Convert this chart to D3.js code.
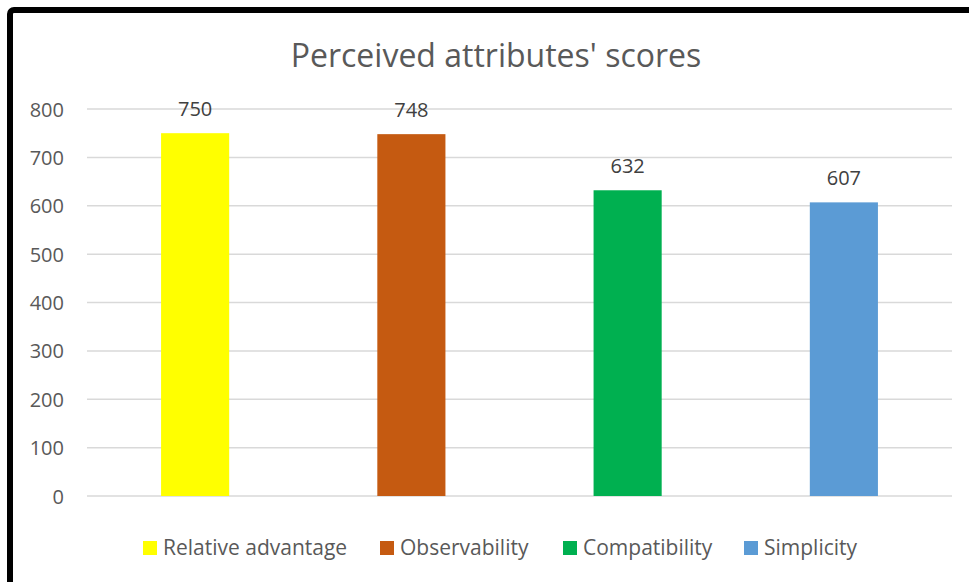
<!DOCTYPE html>
<html>
<head>
<meta charset="utf-8">
<script src="https://cdn.jsdelivr.net/npm/d3@7"></script>
<style>
  html, body { margin: 0; padding: 0; background: #fff; }
  svg { display: block; }
  text { font-family: "Open Sans", Lato, "Liberation Sans", sans-serif; }
</style>
</head>
<body>
<svg id="chart" width="969" height="582"></svg>
<script>
// Chart data
const categories = ["Relative advantage", "Observability", "Compatibility", "Simplicity"];
const scores = [750, 748, 632, 607];
const colors = ["#FFFF00", "#C55A11", "#00B050", "#5B9BD5"];
const yTicks = [0, 100, 200, 300, 400, 500, 600, 700, 800];
const titleText = "Perceived attributes' scores";

const svg = d3.select("#chart");
const W = 969, H = 582;
const margin = { left: 87, right: 17, top: 109, bottom: 86 };

// Frame around the chart area
svg.append("rect")
  .attr("x", 10).attr("y", 10)
  .attr("width", W + 20).attr("height", H + 20)
  .attr("rx", 4)
  .attr("fill", "#fff")
  .attr("stroke", "#000")
  .attr("stroke-width", 6);

const x = d3.scaleBand()
  .domain(categories)
  .range([margin.left, W - margin.right])
  .paddingInner(0.685)
  .paddingOuter(0.3425);

const y = d3.scaleLinear()
  .domain([0, 800])
  .range([H - margin.bottom, margin.top]);

// Horizontal gridlines
svg.append("g")
  .selectAll("line")
  .data(yTicks)
  .join("line")
  .attr("x1", margin.left).attr("x2", W - margin.right)
  .attr("y1", d => y(d)).attr("y2", d => y(d))
  .attr("stroke", "#D9D9D9")
  .attr("stroke-width", 1.5);

// Value axis labels
const yAxis = d3.axisLeft(y).tickValues(yTicks).tickSize(0).tickPadding(0);
const gy = svg.append("g")
  .attr("transform", `translate(${margin.left - 23},0)`)
  .call(yAxis);
gy.select(".domain").remove();
gy.selectAll("text")
  .attr("fill", "#595959")
  .attr("font-size", 20)
  .attr("font-family", "'Open Sans', sans-serif")
  .attr("dy", "0.35em");

// Bars
svg.append("g")
  .selectAll("rect")
  .data(categories)
  .join("rect")
  .attr("x", d => x(d))
  .attr("y", (d, i) => y(scores[i]))
  .attr("width", x.bandwidth())
  .attr("height", (d, i) => y(0) - y(scores[i]))
  .attr("fill", (d, i) => colors[i]);

// Value labels above bars
svg.append("g")
  .selectAll("text")
  .data(categories)
  .join("text")
  .attr("x", d => x(d) + x.bandwidth() / 2)
  .attr("y", (d, i) => y(scores[i]) - 17)
  .attr("text-anchor", "middle")
  .attr("fill", "#404040")
  .attr("font-size", 20)
  .text((d, i) => scores[i]);

// Title
svg.append("text")
  .attr("x", 496)
  .attr("y", 67)
  .attr("text-anchor", "middle")
  .attr("fill", "#595959")
  .attr("font-size", 32)
  .text(titleText);

// Legend
const legendX = [143, 380, 563, 744];
const legend = svg.append("g")
  .selectAll("g")
  .data(categories)
  .join("g")
  .attr("transform", (d, i) => `translate(${legendX[i]},541)`);
legend.append("rect")
  .attr("width", 14).attr("height", 14)
  .attr("fill", (d, i) => colors[i]);
legend.append("text")
  .attr("x", 20)
  .attr("y", 7)
  .attr("dy", "0.35em")
  .attr("fill", "#595959")
  .attr("font-size", 21)
  .text(d => d);
</script>
</body>
</html>
